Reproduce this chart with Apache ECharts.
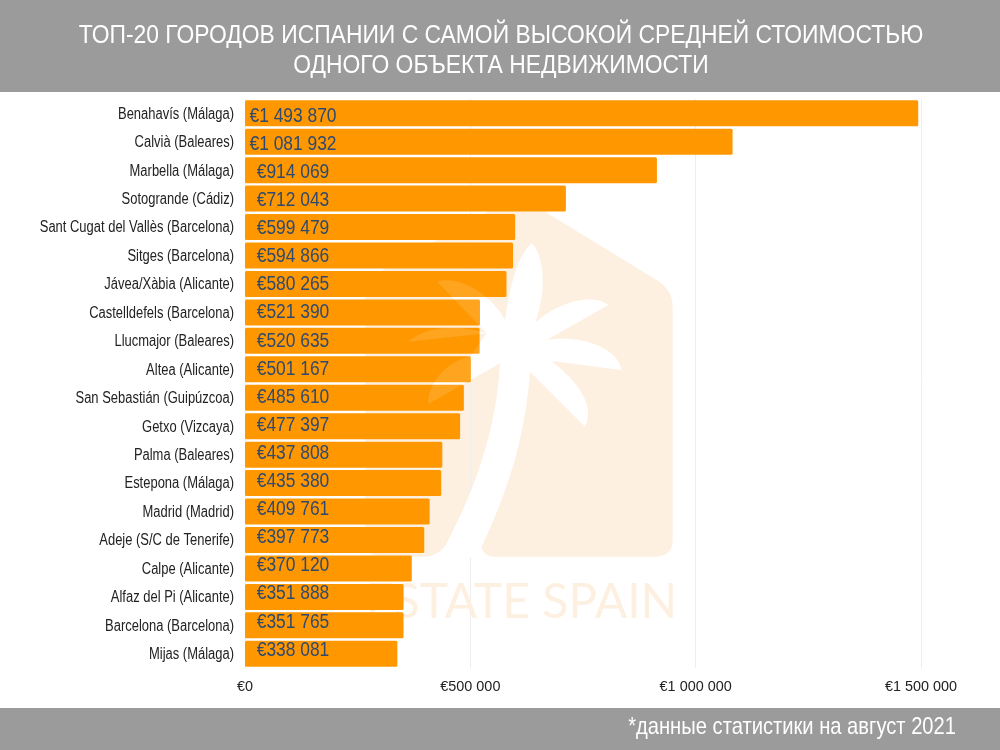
<!DOCTYPE html>
<html><head><meta charset="utf-8">
<style>html,body{margin:0;padding:0;background:#fff}#c{width:1000px;height:750px}</style>
<script src="https://cdn.jsdelivr.net/npm/echarts@6/dist/echarts.min.js"></script>
</head><body><div id="c"></div>
<script>
const categories = ["Benahavís (Málaga)","Calvià (Baleares)","Marbella (Málaga)","Sotogrande (Cádiz)","Sant Cugat del Vallès (Barcelona)","Sitges (Barcelona)","Jávea/Xàbia (Alicante)","Castelldefels (Barcelona)","Llucmajor (Baleares)","Altea (Alicante)","San Sebastián (Guipúzcoa)","Getxo (Vizcaya)","Palma (Baleares)","Estepona (Málaga)","Madrid (Madrid)","Adeje (S/C de Tenerife)","Calpe (Alicante)","Alfaz del Pi (Alicante)","Barcelona (Barcelona)","Mijas (Málaga)"];
const values = [1493870,1081932,914069,712043,599479,594866,580265,521390,520635,501167,485610,477397,437808,435380,409761,397773,370120,351888,351765,338081];
const titleText = "ТОП-20 ГОРОДОВ ИСПАНИИ С САМОЙ ВЫСОКОЙ СРЕДНЕЙ СТОИМОСТЬЮ\nОДНОГО ОБЪЕКТА НЕДВИЖИМОСТИ";
const footnote = "*данные статистики на август 2021";
const watermark = "ESTATE SPAIN";
const FONT = '"Liberation Sans",sans-serif';
const euro = v => "€" + String(v).replace(/\B(?=(\d{3})+(?!\d))/g, " ");

const housePath = "M45 240 L500 -12 Q545 -12 590 38 L920 240 Q968 270 968 320 L968 1020 Q968 1070 915 1070 L100 1070 Q45 1070 45 1020 Z";
const palmPath = "M545 130 C585 170 590 280 555 370 C610 315 720 275 775 315 L590 420 C680 405 800 435 815 510 L605 483 C690 550 735 620 705 680 L540 515 C525 720 470 880 395 1040 Q400 1070 440 1072 L230 1072 Q275 1060 290 1030 C380 860 440 680 450 490 L235 612 C230 550 295 480 360 470 L410 400 C330 375 235 375 175 425 L410 400 L262 245 C330 225 425 285 465 360 C480 260 500 170 545 130 Z";
echarts.graphic.registerShape('wmHouse', echarts.graphic.extendPath(housePath, {}));
echarts.graphic.registerShape('wmPalm', echarts.graphic.extendPath(palmPath, {}));

const chart = echarts.init(document.getElementById('c'));
chart.setOption({
  animation:false,
  title:{text:titleText,left:496,top:16,textAlign:'center',
    textStyle:{color:'#fff',fontFamily:FONT,fontSize:26,fontWeight:'normal',lineHeight:30}},
  grid:{left:245,width:676,top:99,height:569,containLabel:false,outerBoundsMode:'none'},
  xAxis:{type:'value',min:0,max:1500000,interval:500000,
    axisLine:{show:false},axisTick:{show:false},
    splitLine:{lineStyle:{color:'#eeeeee',width:1}},
    axisLabel:{formatter:euro,color:'#222',fontFamily:FONT,fontSize:15.5,margin:11}},
  yAxis:{type:'category',inverse:true,data:categories,
    axisLine:{show:false},axisTick:{show:false},
    axisLabel:{color:'#222',fontFamily:FONT,fontSize:16,margin:11}},
  series:[{type:'bar',z:5,barWidth:26,
    itemStyle:{color:'#ff9800',borderRadius:1.5},
    label:{show:true,position:[48,'50%'],align:'center',verticalAlign:'middle',
      formatter:p=>euro(p.value),color:'#2f4a6d',fontFamily:FONT,fontSize:20},
    data:values.map((v,i)=>({value:v,label:{offset:[0,3-i*0.35]}}))}],
  graphic:[
    {type:'rect',z:0,silent:true,shape:{x:0,y:0,width:1000,height:92},style:{fill:'#9b9b9b'}},
    {type:'rect',z:0,silent:true,shape:{x:0,y:708,width:1000,height:42},style:{fill:'#9b9b9b'}},
    {type:'wmHouse',z:0,silent:true,x:350,y:200,scaleX:1/3,scaleY:1/3,style:{fill:'#fdf0e0'}},
    {type:'wmPalm',z:1,silent:true,x:350,y:200,scaleX:1/3,scaleY:1/3,style:{fill:'#ffffff'}},
    {type:'text',z:1,silent:true,x:366,y:603,style:{text:watermark,fill:'#fdf0e0',fontFamily:'"Lato",sans-serif',fontSize:48,textVerticalAlign:'middle'}},
    {type:'wmPalm',z:20,silent:true,x:350,y:200,scaleX:1/3,scaleY:1/3,style:{fill:'rgba(255,255,255,0.12)'}},
    {type:'text',z:20,silent:true,x:956,y:727,scaleX:0.84,style:{text:footnote,fill:'#fff',fontFamily:FONT,fontSize:24,align:'right',verticalAlign:'middle'}}
  ]
});
// Reference typeface is condensed; squeeze text horizontally about its anchor, keyed by font size.
const squeeze = {15.5:[0.93,0], 16:[0.81,1], 20:[0.87,0], 26:[0.88,0]};
chart.getZr().storage.getDisplayList(true).forEach(el=>{
  const s = el.style; if(!s || s.text==null || !squeeze[s.fontSize]) return;
  el.originX = 0;
  el.scaleX = squeeze[s.fontSize][0];
  el.y += squeeze[s.fontSize][1];
  el.dirty && el.dirty();
});
chart.getZr().refreshImmediately();
</script></body></html>
